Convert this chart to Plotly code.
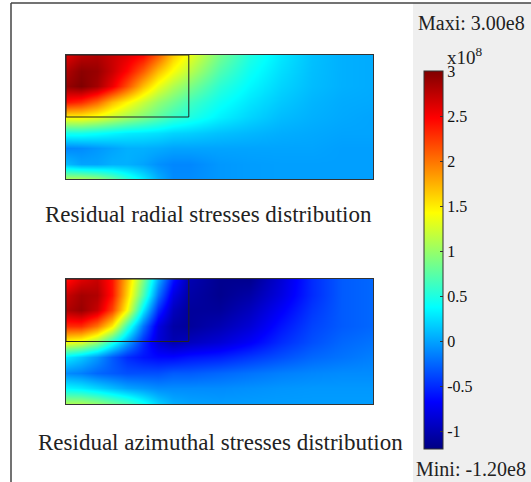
import plotly.graph_objects as go

# grid positions (x along length, y depth from top)
x_pos = [0, 0.5, 1, 1.5, 2, 2.5, 3, 3.5, 4, 5, 6, 7, 8, 9, 10]
y_pos = [0, 0.5, 1, 1.5, 2, 2.5, 3, 3.5, 4]

# residual radial stresses (x1e8 Pa)
radial = [
    [2.6, 2.75, 2.8, 2.7, 2.6, 2.45, 2.1, 1.65, 1.35, 0.85, 0.5, 0.28, 0.12, 0.05, 0.03],
    [2.8, 2.95, 2.9, 2.7, 2.45, 2.1, 1.7, 1.4, 1.15, 0.7, 0.42, 0.24, 0.11, 0.05, 0.03],
    [2.9, 3.0, 2.85, 2.55, 2.15, 1.7, 1.35, 1.1, 0.9, 0.55, 0.35, 0.2, 0.1, 0.05, 0.03],
    [2.4, 2.3, 2.05, 1.7, 1.45, 1.2, 0.98, 0.82, 0.65, 0.42, 0.27, 0.15, 0.07, 0.03, 0.02],
    [1.45, 1.45, 1.35, 1.2, 1.05, 0.9, 0.75, 0.6, 0.5, 0.32, 0.2, 0.1, 0.05, 0.02, 0.0],
    [0.45, 0.45, 0.4, 0.35, 0.3, 0.28, 0.25, 0.2, 0.18, 0.12, 0.08, 0.04, 0.02, 0.0, 0.0],
    [-0.12, -0.1, -0.05, 0.0, 0.05, 0.05, 0.03, 0.0, 0.0, 0.0, 0.0, 0.0, 0.0, -0.02, -0.02],
    [0.1, 0.0, 0.0, 0.05, 0.05, 0.0, -0.08, -0.12, -0.12, -0.05, -0.03, -0.02, -0.02, -0.02, -0.02],
    [1.1, 1.1, 1.0, 0.8, 0.55, 0.3, 0.05, -0.1, -0.1, -0.05, -0.03, -0.02, -0.02, -0.02, -0.02],
]

# residual azimuthal stresses (x1e8 Pa)
azimuthal = [
    [2.4, 2.6, 2.7, 2.4, 1.7, 0.9, 0.05, -0.6, -1.0, -1.15, -1.15, -0.85, -0.5, -0.3, -0.25],
    [2.7, 2.85, 2.8, 2.4, 1.6, 0.7, -0.2, -0.8, -1.05, -1.15, -1.05, -0.8, -0.5, -0.3, -0.25],
    [2.8, 2.9, 2.7, 2.2, 1.4, 0.3, -0.5, -0.95, -1.1, -1.1, -0.95, -0.7, -0.45, -0.3, -0.25],
    [2.3, 2.3, 2.0, 1.5, 0.6, -0.2, -0.8, -1.05, -1.1, -1.0, -0.85, -0.6, -0.4, -0.3, -0.25],
    [1.4, 1.3, 1.0, 0.5, 0.0, -0.5, -0.85, -1.0, -0.95, -0.85, -0.7, -0.5, -0.35, -0.25, -0.2],
    [0.3, 0.15, -0.05, -0.3, -0.5, -0.6, -0.65, -0.65, -0.6, -0.55, -0.45, -0.35, -0.25, -0.2, -0.15],
    [-0.1, -0.15, -0.25, -0.3, -0.35, -0.35, -0.35, -0.3, -0.3, -0.25, -0.2, -0.15, -0.12, -0.1, -0.1],
    [0.35, 0.3, 0.2, 0.1, 0.0, -0.05, -0.1, -0.1, -0.1, -0.1, -0.08, -0.06, -0.05, -0.05, -0.05],
    [1.1, 1.1, 1.0, 0.85, 0.7, 0.45, 0.2, 0.05, 0.0, -0.03, -0.03, -0.03, -0.03, -0.03, -0.03],
]

# inner region (x extent, y extent)
inner_x = [0, 4]
inner_y = [0, 2]

z_min, z_max = -1.2, 3.0
cb_ticks = [-1, -0.5, 0, 0.5, 1, 1.5, 2, 2.5, 3]
cb_labels = ["-1", "-0.5", "0", "0.5", "1", "1.5", "2", "2.5", "3"]
captions = ["Residual radial stresses distribution", "Residual azimuthal stresses distribution"]
max_text = "Maxi: 3.00e8"
min_text = "Mini: -1.20e8"
scale_text = "x10<sup>8</sup>"

W, H = 531, 482
SERIF = "Liberation Serif, Times New Roman, serif"

def px(x):
    return x / W

def py(y):
    return 1 - y / H

fig = go.Figure()

jet = [
    [0.0, "rgb(0,0,131)"], [0.125, "rgb(0,0,255)"], [0.375, "rgb(0,255,255)"],
    [0.625, "rgb(255,255,0)"], [0.875, "rgb(255,0,0)"], [1.0, "rgb(128,0,0)"],
]

fig.add_trace(go.Heatmap(
    x=x_pos, y=y_pos, z=radial, zsmooth="best", colorscale=jet,
    zmin=z_min, zmax=z_max, xaxis="x", yaxis="y", showscale=False,
))
fig.add_trace(go.Heatmap(
    x=x_pos, y=y_pos, z=azimuthal, zsmooth="best", colorscale=jet,
    zmin=z_min, zmax=z_max, xaxis="x2", yaxis="y2",
    colorbar=dict(
        thickness=19, lenmode="pixels", len=378,
        x=px(424), xanchor="left", xpad=0,
        y=py(260), yanchor="middle", ypad=0,
        outlinewidth=1, outlinecolor="#333",
        tickvals=cb_ticks, ticktext=cb_labels,
        ticks="inside", ticklen=3, tickcolor="#333", tickwidth=1,
        tickfont=dict(family=SERIF, size=16, color="#111"),
    ),
))

ax_common = dict(showgrid=False, zeroline=False, showticklabels=False, ticks="",
                 showline=True, mirror=True, linecolor="#333", linewidth=1)

fig.update_layout(
    width=W, height=H,
    margin=dict(l=0, r=0, t=0, b=0),
    paper_bgcolor="white", plot_bgcolor="white",
    showlegend=False,
    xaxis=dict(domain=[px(66), px(373)], range=[0, 10], anchor="y", **ax_common),
    yaxis=dict(domain=[py(179), py(55)], range=[4, 0], anchor="x", **ax_common),
    xaxis2=dict(domain=[px(66), px(373)], range=[0, 10], anchor="y2", **ax_common),
    yaxis2=dict(domain=[py(404), py(279)], range=[4, 0], anchor="x2", **ax_common),
)

shapes = [
    # grey side panel
    dict(type="rect", xref="paper", yref="paper", x0=px(413), x1=1, y0=0, y1=py(3),
         fillcolor="#efefef", line=dict(width=0), layer="below"),
    # outer frame lines
    dict(type="line", xref="paper", yref="paper", x0=px(11), x1=1, y0=py(3), y1=py(3),
         line=dict(color="#444", width=1.5)),
    dict(type="line", xref="paper", yref="paper", x0=px(11), x1=px(11), y0=0, y1=py(3),
         line=dict(color="#444", width=1.5)),
]
for xr, yr in (("x", "y"), ("x2", "y2")):
    shapes.append(dict(type="rect", xref=xr, yref=yr, x0=inner_x[0], x1=inner_x[1],
                       y0=inner_y[0], y1=inner_y[1], line=dict(color="#222", width=1)))
fig.update_layout(shapes=shapes)

def note(text, x, y, size, xanchor="center"):
    return dict(text=text, x=px(x), y=py(y), xref="paper", yref="paper",
                xanchor=xanchor, yanchor="middle", showarrow=False,
                font=dict(family=SERIF, size=size, color="#222"))

ann = [
    note(captions[0], 208, 215, 23),
    note(captions[1], 220, 442, 23),
    note(max_text, 471, 23, 20),
    note(min_text, 471, 469, 20),
    note(scale_text, 445, 56, 19, xanchor="left"),
]
fig.update_layout(annotations=ann)

fig.write_html("out.html", config={"displayModeBar": False},
               post_script="document.body.style.margin='0';")
